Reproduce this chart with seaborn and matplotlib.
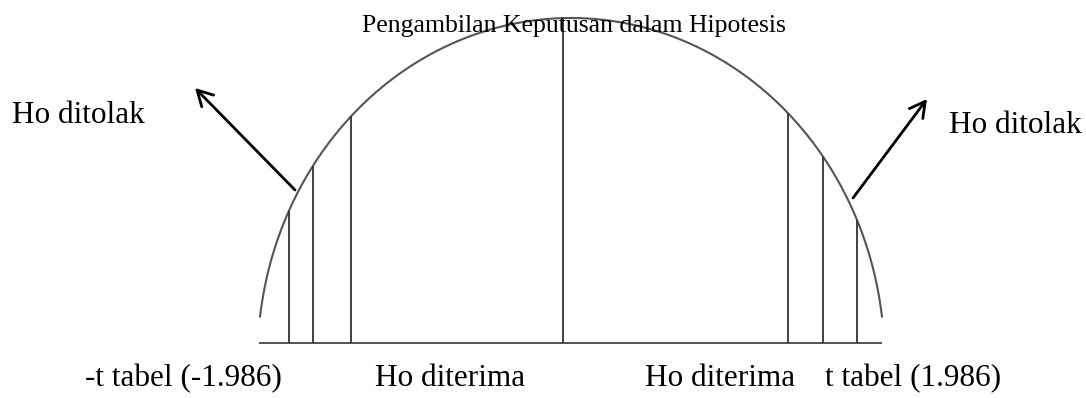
import numpy as np
import pandas as pd
import matplotlib
matplotlib.use("Agg")
import matplotlib.pyplot as plt
import seaborn as sns

# ---- data (diagram units: semi-ellipse of half-width 1 and height 1) ----
title_text = "Pengambilan Keputusan dalam Hipotesis"
cut_lines_left = [-0.900, -0.823, -0.702]      # rejection-region hatching (left)
center_line = [-0.026]
cut_lines_right = [0.692, 0.804, 0.912]        # rejection-region hatching (right)
arc_start, arc_end = -0.992, 0.992
baseline_level = 0.050
baseline_span = [-0.995, 0.992]
region_labels = ["Ho ditolak", "Ho ditolak"]
bottom_labels = ["-t tabel (-1.986)", "Ho diterima", "Ho diterima", "t tabel (1.986)"]

# ---- layout helpers (pixel -> diagram units) ----
W, H = 1086, 398
CX, CY, A, B = 571.0, 360.0, 313.5, 342.0
def px(x):
    return (x - CX) / A
def py(y):
    return (CY - y) / B

sns.set_theme(style="white")
plt.rcParams["font.family"] = ["Liberation Serif", "DejaVu Serif"]

fig = plt.figure(figsize=(W / 100, H / 100), dpi=100)
ax = fig.add_axes([0, 0, 1, 1])
ax.set_xlim(px(0), px(W))
ax.set_ylim(py(H), py(0))
ax.axis("off")

# arc
u = np.linspace(arc_start, arc_end, 600)
arc = pd.DataFrame({"u": u, "v": np.sqrt(1 - u ** 2)})
sns.lineplot(data=arc, x="u", y="v", ax=ax, color="#555555", lw=1.5,
             sort=True, estimator=None)

# baseline
ax.hlines(baseline_level, baseline_span[0], baseline_span[1], color="#444444", lw=1.3)

# vertical lines
all_lines = np.array(cut_lines_left + center_line + cut_lines_right)
ax.vlines(all_lines, baseline_level, np.sqrt(1 - all_lines ** 2), color="#333333", lw=1.3)

# arrows
arrow_kw = dict(arrowstyle="->,head_length=0.55,head_width=0.3", color="black",
                lw=2.0, mutation_scale=20, shrinkA=0, shrinkB=0)
ax.annotate("", xy=(px(195), py(88)), xytext=(px(295), py(190)), arrowprops=arrow_kw)
ax.annotate("", xy=(px(927), py(99)), xytext=(px(853), py(198)), arrowprops=arrow_kw)

# texts
ax.text(px(362), py(32), title_text, fontsize=18.5, ha="left", va="baseline", color="black")
ax.text(px(12), py(123), region_labels[0], fontsize=22.5, ha="left", va="baseline", color="black")
ax.text(px(949), py(133), region_labels[1], fontsize=22.5, ha="left", va="baseline", color="black")
for xpos, lab in zip([85, 375, 645, 825], bottom_labels):
    ax.text(px(xpos), py(386), lab, fontsize=22.5, ha="left", va="baseline", color="black")

fig.savefig("out.png", dpi=100, facecolor="white")
